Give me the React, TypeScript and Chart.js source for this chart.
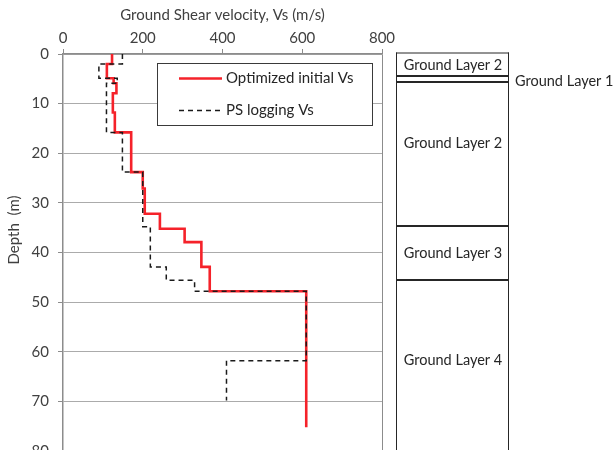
import React, { useEffect, useRef } from 'react';
import { Chart, registerables } from 'chart.js';

Chart.register(...registerables);

// ---- Data ----
const optimizedTop = [0, 2.0, 4.9, 5.9, 7.9, 11.8, 15.8, 23.8, 27.1, 32.2, 35.2, 37.9, 42.9, 47.8];
const optimizedVs = [123, 110, 127, 134, 125, 130, 171, 200, 205, 243, 305, 347, 368, 610];
const optimizedBottom = 75.2;

const psTop = [0, 2.0, 4.9, 5.9, 15.8, 23.8, 34.8, 42.9, 45.6, 47.8, 61.8];
const psVs = [149, 90, 136, 109, 149, 200, 219, 259, 330, 610, 410];
const psBottom = 69.8;

const seriesNames = ['Optimized initial Vs', 'PS logging Vs'];

const layerNames = ['Ground Layer 2', 'Ground Layer 1', 'Ground Layer 2', 'Ground Layer 3', 'Ground Layer 4'];
const layerTops = [0, 4.4, 5.6, 34.7, 45.6];
const layerBottom = 80;
const layerLabelDepth = [2.2, 5.5, 18.0, 40.1, 61.8];

const xTitle = 'Ground Shear velocity, Vs (m/s)';
const yTitle = 'Depth  (m)';

// ---- Styles ----
const FONT = 'Lato, "Open Sans", sans-serif';
const FS = 15;
const LAYER_FS = 14.5;
const textColor = '#404040';
const axisGray = '#8c8c8c';
const gridGray = '#ababab';
const redColor = '#f5222a';

function stepPoints(tops: number[], vs: number[], bottom: number) {
  const pts: { x: number; y: number }[] = [];
  for (let i = 0; i < tops.length; i++) {
    const b = i + 1 < tops.length ? tops[i + 1] : bottom;
    pts.push({ x: vs[i], y: tops[i] }, { x: vs[i], y: b });
  }
  return pts;
}

const overlayPlugin = {
  id: 'overlay',
  afterDraw(chart: any) {
    const ctx = chart.ctx as CanvasRenderingContext2D;
    const area = chart.chartArea;
    const ys = chart.scales.y;

    // Legend box
    const lx = area.left + 94;
    const ly = area.top + 9;
    const lw = 215;
    const lh = 62;
    ctx.save();
    ctx.fillStyle = '#ffffff';
    ctx.fillRect(lx, ly, lw, lh);
    ctx.strokeStyle = '#3a3a3a';
    ctx.lineWidth = 1;
    ctx.strokeRect(lx + 0.5, ly + 0.5, lw, lh);
    const legendOrder = [0, 1];
    legendOrder.forEach((di, k) => {
      const ds = chart.data.datasets[di];
      const yy = ly + 15.5 + k * 32;
      ctx.beginPath();
      ctx.strokeStyle = ds.borderColor;
      ctx.lineWidth = ds.borderWidth;
      ctx.setLineDash(ds.borderDash || []);
      ctx.moveTo(lx + 22, yy);
      ctx.lineTo(lx + 65, yy);
      ctx.stroke();
      ctx.setLineDash([]);
      ctx.fillStyle = '#262626';
      ctx.font = `${FS}px ${FONT}`;
      ctx.textAlign = 'left';
      ctx.textBaseline = 'middle';
      ctx.fillText(ds.label, lx + 69, yy);
    });
    ctx.restore();

    // Y title
    ctx.save();
    ctx.translate(14, 230);
    ctx.rotate(-Math.PI / 2);
    ctx.fillStyle = textColor;
    ctx.font = `${FS}px ${FONT}`;
    ctx.textAlign = 'center';
    ctx.textBaseline = 'middle';
    ctx.fillText(yTitle, 0, 0);
    ctx.restore();

    // Ground layer panel
    const px0 = area.right + 14;
    const px1 = px0 + 112;
    const yTop = ys.getPixelForValue(layerTops[0]) - 1.5;
    const yBot = ys.getPixelForValue(layerBottom);
    ctx.save();
    ctx.strokeStyle = '#262626';
    ctx.lineWidth = 1;
    ctx.beginPath();
    ctx.moveTo(px0 + 0.5, yTop);
    ctx.lineTo(px0 + 0.5, yBot);
    ctx.moveTo(px1 + 0.5, yTop);
    ctx.lineTo(px1 + 0.5, yBot);
    ctx.moveTo(px0, yTop + 0.5);
    ctx.lineTo(px1 + 1, yTop + 0.5);
    ctx.stroke();
    ctx.lineWidth = 2;
    for (let i = 1; i < layerTops.length; i++) {
      const yy = Math.round(ys.getPixelForValue(layerTops[i]));
      ctx.beginPath();
      ctx.moveTo(px0, yy);
      ctx.lineTo(px1 + 1, yy);
      ctx.stroke();
    }
    ctx.fillStyle = '#262626';
    ctx.font = `${LAYER_FS}px ${FONT}`;
    ctx.textBaseline = 'middle';
    layerNames.forEach((name, i) => {
      const yy = ys.getPixelForValue(layerLabelDepth[i]);
      const thin = i + 1 < layerTops.length && layerTops[i + 1] - layerTops[i] < 2;
      if (thin) {
        ctx.textAlign = 'left';
        ctx.fillText(name, px1 + 7, yy);
      } else {
        ctx.textAlign = 'center';
        ctx.fillText(name, (px0 + px1) / 2 + 1, yy);
      }
    });
    ctx.restore();
  },
};

export default function App() {
  const ref = useRef<HTMLCanvasElement | null>(null);

  useEffect(() => {
    if (!ref.current) return;
    const chart = new Chart(ref.current, {
      type: 'scatter',
      data: {
        datasets: [
          {
            label: seriesNames[0],
            data: stepPoints(optimizedTop, optimizedVs, optimizedBottom),
            showLine: true,
            borderColor: redColor,
            backgroundColor: redColor,
            borderWidth: 2.6,
            pointRadius: 0,
            tension: 0,
            order: 1,
          },
          {
            label: seriesNames[1],
            data: stepPoints(psTop, psVs, psBottom),
            showLine: true,
            borderColor: '#1a1a1a',
            backgroundColor: '#1a1a1a',
            borderWidth: 1.5,
            borderDash: [5, 4],
            pointRadius: 0,
            tension: 0,
            order: 0,
          },
        ],
      },
      options: {
        responsive: false,
        animation: false,
        events: [],
        layout: { padding: { left: 0, top: 0, right: 232, bottom: 19 } },
        plugins: { legend: { display: false }, tooltip: { enabled: false } },
        scales: {
          x: {
            type: 'linear',
            position: 'top',
            min: 0,
            max: 800,
            ticks: { stepSize: 200, color: textColor, font: { family: FONT, size: FS }, padding: 2 },
            grid: {
              color: (c: any) => (c.tick && c.tick.value === 800 ? axisGray : 'rgba(0,0,0,0)'),
              tickColor: axisGray,
              tickLength: 5,
              lineWidth: 1,
            },
            border: { color: axisGray, width: 1.5 },
            title: {
              display: true,
              text: xTitle,
              color: textColor,
              font: { family: FONT, size: FS },
              padding: { top: 6, bottom: 2 },
            },
            afterFit: (s: any) => {
              s.height = 54;
            },
          },
          y: {
            type: 'linear',
            reverse: true,
            min: 0,
            max: 80,
            ticks: { stepSize: 10, color: textColor, font: { family: FONT, size: FS }, padding: 9 },
            grid: { color: gridGray, tickColor: axisGray, tickLength: 5, lineWidth: 1 },
            border: { color: axisGray, width: 1.5 },
            afterFit: (s: any) => {
              s.width = 63;
            },
          },
        },
      },
      plugins: [overlayPlugin],
    } as any);
    return () => chart.destroy();
  }, []);

  return (
    <div style={{ position: 'fixed', left: 0, top: 0, width: 614, height: 470, background: '#fff' }}>
      <canvas ref={ref} width={614} height={470} style={{ display: 'block', width: 614, height: 470 }} />
    </div>
  );
}
